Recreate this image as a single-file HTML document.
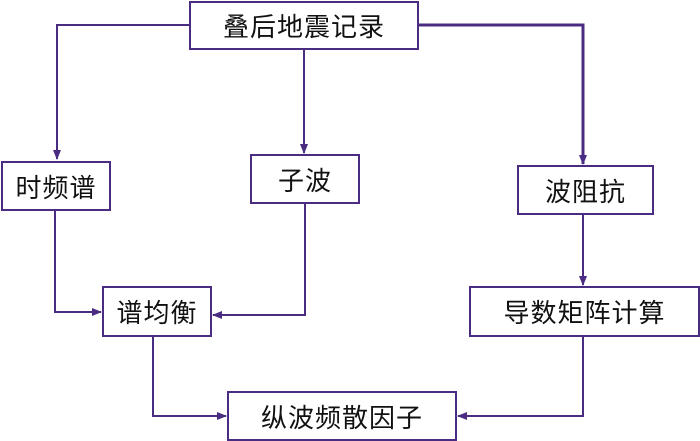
<!DOCTYPE html>
<html><head><meta charset="utf-8"><style>
body{margin:0;background:#fff;width:700px;height:441px;overflow:hidden;position:relative}
.b{position:absolute;box-sizing:border-box;border:2px solid #4a2c82;background:#fff;display:flex;align-items:center;justify-content:center;font-family:"Liberation Sans","Noto Sans CJK SC",sans-serif;font-size:26px;color:#111;letter-spacing:1px}
svg{position:absolute;left:0;top:0}
</style></head><body>
<svg width="700" height="441" viewBox="0 0 700 441">
<defs><marker id="a" markerWidth="10" markerHeight="10" refX="9" refY="5" orient="auto" markerUnits="userSpaceOnUse"><path d="M0,1 L10,5 L0,9 Z" fill="#4a2c82"/></marker></defs>
<g fill="none" stroke="#4a2c82" stroke-width="2">
<polyline points="189,25 57,25 57,159" marker-end="url(#a)"/>
<polyline points="304,50 304,153" marker-end="url(#a)"/>
<polyline points="419,25 583,25 583,164" stroke-width="3" marker-end="url(#a)"/>
<polyline points="55,210 55,312 101,312" marker-end="url(#a)"/>
<polyline points="305,204 305,315 213,315" marker-end="url(#a)"/>
<polyline points="583,214 583,285" marker-end="url(#a)"/>
<polyline points="153,336 153,416 226,416" marker-end="url(#a)"/>
<polyline points="583,336 583,416 458,416" marker-end="url(#a)"/>
</g></svg>
<div class="b" style="left:189px;top:1px;width:230px;height:49px">叠后地震记录</div>
<div class="b" style="left:1px;top:161px;width:110px;height:50px">时频谱</div>
<div class="b" style="left:250px;top:154px;width:110px;height:50px">子波</div>
<div class="b" style="left:517px;top:165px;width:137px;height:50px">波阻抗</div>
<div class="b" style="left:102px;top:286px;width:110px;height:51px">谱均衡</div>
<div class="b" style="left:469px;top:286px;width:231px;height:51px">导数矩阵计算</div>
<div class="b" style="left:227px;top:391px;width:230px;height:50px">纵波频散因子</div>
</body></html>
